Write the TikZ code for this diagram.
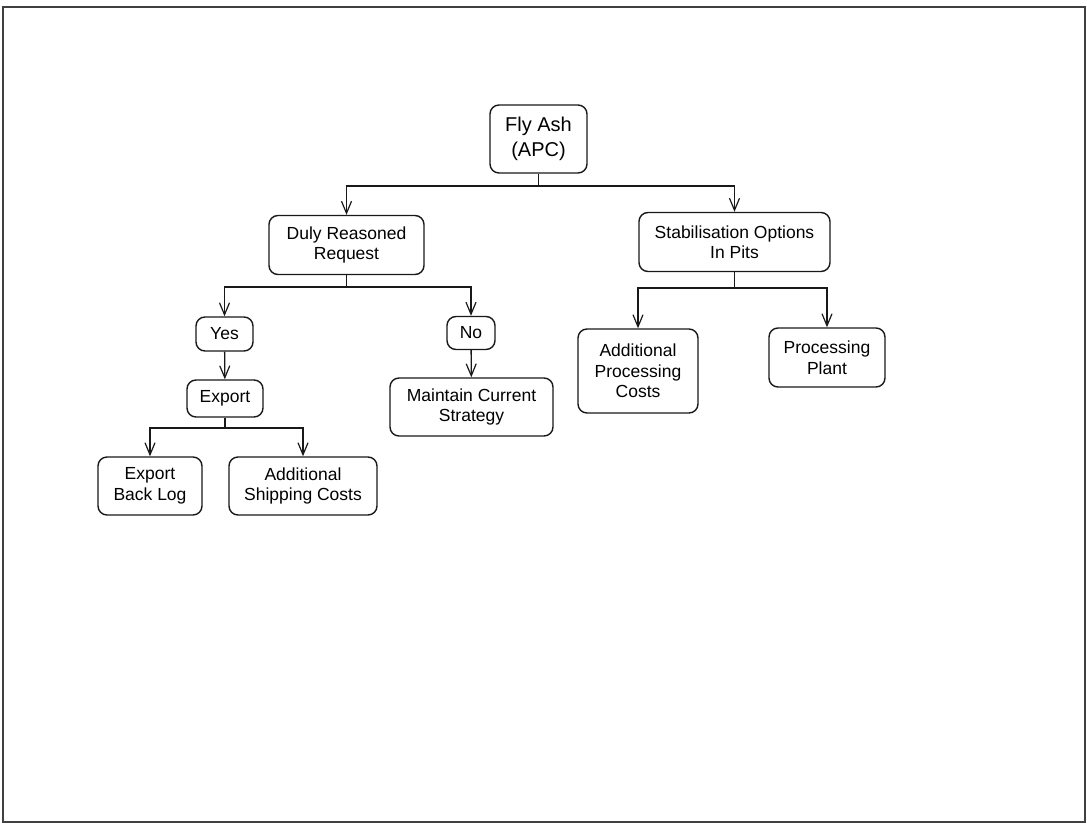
\documentclass[tikz,border=0pt]{standalone}
\usepackage{fontspec}
\setmainfont{Liberation Sans}
\usetikzlibrary{arrows.meta}
\begin{document}
\begin{tikzpicture}[x=1pt,y=1pt,
  box/.style={draw=black!90, line width=1.4pt, rounded corners=9pt, align=center, inner sep=0pt,
    font=\fontsize{17.5}{20.5}\selectfont, text=black},
  arr/.style={draw=black!90, line width=1.3pt, -{Straight Barb[length=12pt,width=10pt,line width=1.2pt]}},
  ln/.style={draw=black!90, line width=1.3pt}]
\useasboundingbox (0,0) rectangle (1087,-825);
\draw[black!75, line width=1.6pt] (3,-7) rectangle (1085,-822);

\node[box, minimum width=97pt, minimum height=68pt, font=\fontsize{20}{25}\selectfont] (fly) at (538.5,-139) {Fly Ash\\(APC)};
\node[box, minimum width=155pt, minimum height=59pt] (duly) at (346.5,-245) {Duly Reasoned\\Request};
\node[box, minimum width=191pt, minimum height=59pt] (stab) at (734.5,-242) {Stabilisation Options\\In Pits};
\node[box, minimum width=57pt, minimum height=34pt] (yes) at (224.5,-334) {Yes};
\node[box, minimum width=48pt, minimum height=33pt] (no) at (471,-333) {No};
\node[box, minimum width=76pt, minimum height=37pt] (export) at (225,-398.5) {Export};
\node[box, minimum width=163pt, minimum height=58pt] (maint) at (471.5,-407) {Maintain Current\\Strategy};
\node[box, minimum width=104pt, minimum height=58pt] (ebl) at (150,-486) {Export\\Back Log};
\node[box, minimum width=148pt, minimum height=58pt] (asc) at (303,-486) {Additional\\Shipping Costs};
\node[box, minimum width=120pt, minimum height=84pt] (apc) at (638,-371) {Additional\\Processing\\Costs};
\node[box, minimum width=116pt, minimum height=59pt] (pp) at (827,-357.5) {Processing\\Plant};

\coordinate (j1) at (538.5,-186);
\coordinate (j2) at (346.5,-287);
\coordinate (j3) at (734.5,-288);
\coordinate (j4) at (225,-428);

\draw[ln] (fly) -- (j1);
\draw[arr] (j1) -| (duly);
\draw[arr] (j1) -| (stab);

\draw[ln] (duly) -- (j2);
\draw[arr] (j2) -| (yes);
\draw[arr] (j2) -| (no);

\draw[arr] (yes) -- (export);
\draw[arr] (no) -- (maint);

\draw[ln] (export) -- (j4);
\draw[arr] (j4) -| (ebl);
\draw[arr] (j4) -| (asc);

\draw[ln] (stab) -- (j3);
\draw[arr] (j3) -| (apc);
\draw[arr] (j3) -| (pp);
\end{tikzpicture}
\end{document}
